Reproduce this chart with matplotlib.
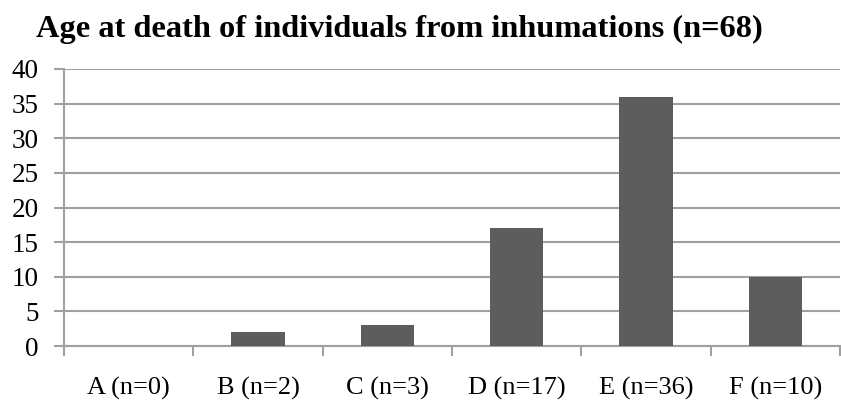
import matplotlib
matplotlib.use("Agg")
import matplotlib.pyplot as plt
import numpy as np

categories = ["A (n=0)", "B (n=2)", "C (n=3)", "D (n=17)", "E (n=36)", "F (n=10)"]
values = [0, 2, 3, 17, 36, 10]
yticks = [0, 5, 10, 15, 20, 25, 30, 35, 40]
title = "Age at death of individuals from inhumations (n=68)"

plt.rcParams['font.family'] = ['Liberation Serif', 'DejaVu Serif']

W, H = 841, 401
fig = plt.figure(figsize=(W/100, H/100), dpi=100)
ax = fig.add_axes([64/W, (H-346)/H, (840-64)/W, (346-69)/H])

x = np.arange(len(categories))
ax.bar(x, values, width=0.41, color="#5d5d5d", zorder=3)
ax.set_xlim(-0.5, len(categories)-0.5)
ax.set_ylim(0, 40)
ax.set_yticks(yticks)
ax.set_yticklabels([str(v) for v in yticks], fontsize=19.5)
ax.set_xticks(x)
ax.set_xticklabels(categories, fontsize=19)
ax.tick_params(axis='x', length=0, pad=22)
ax.tick_params(axis='y', length=7, color="#a0a0a0", width=1.5, pad=11)
# category boundary ticks
ax.set_xticks(np.arange(-0.5, len(categories)-0.4, 1), minor=True)
ax.tick_params(axis='x', which='minor', length=7, color="#a0a0a0", width=1.5, direction='out')
ax.grid(axis='y', color="#a0a0a0", linewidth=1.5, zorder=0)
for s in ['top', 'right']:
    ax.spines[s].set_visible(False)
for s in ['left', 'bottom']:
    ax.spines[s].set_color("#a0a0a0")
    ax.spines[s].set_linewidth(1.5)

fig.text(399/W, 1-29/H, title, ha='center', va='center', fontsize=23.3, fontweight='bold')
fig.savefig("out.png", dpi=100)
